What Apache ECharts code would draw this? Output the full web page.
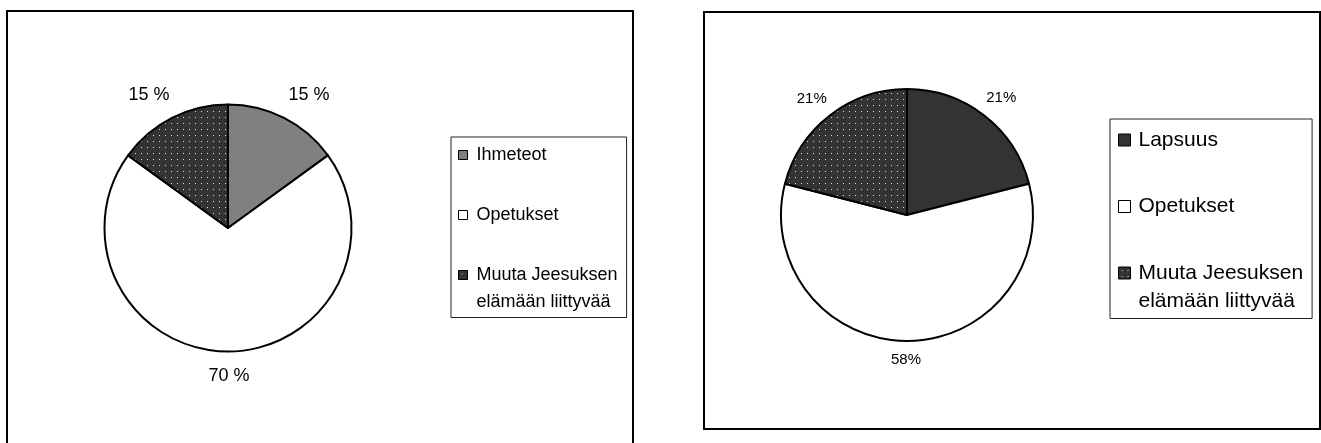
<!DOCTYPE html>
<html lang="fi">
<head>
    <meta charset="UTF-8">
    <title>Jeesus-aiheet</title>
    <script src="https://cdn.jsdelivr.net/npm/echarts@6/dist/echarts.min.js"></script>
    <style>
        html, body { margin: 0; padding: 0; background: #fff; }
        #chart { width: 1321px; height: 443px; }
    </style>
</head>
<body>
<div id="chart"></div>
<script>
  // vasen kaavio
  var leftNames = ['Ihmeteot', 'Opetukset', 'Muuta Jeesuksen elämään liittyvää'];
  var leftValues = [15, 70, 15];
  var leftLabels = ['15 %', '70 %', '15 %'];

  // oikea kaavio
  var rightNames = ['Lapsuus', 'Opetukset', 'Muuta Jeesuksen elämään liittyvää'];
  var rightValues = [21, 58, 21];
  var rightLabels = ['21%', '58%', '21%'];

  var FONT = "'Liberation Sans', Arial, sans-serif";

  function dots(bg) {
    var c = document.createElement('canvas');
    c.width = 6;
    c.height = 6;
    var ctx = c.getContext('2d');
    ctx.fillStyle = bg;
    ctx.fillRect(0, 0, 6, 6);
    ctx.fillStyle = '#dddddd';
    ctx.fillRect(3, 3, 1, 1);
    return { image: c, repeat: 'repeat' };
  }

  var leftColors = ['#808080', '#ffffff', dots('#333333')];
  var rightColors = ['#333333', '#ffffff', dots('#333333')];

  function buildData(names, values, colors) {
    return names.map(function (n, i) {
      return { name: n, value: values[i], itemStyle: { color: colors[i] } };
    });
  }

  // label shifts from the slice edge (dx, dy)
  var leftShift = [[25, -23], [1, 25], [-23, -23]];
  var rightShift = [[17, -18], [-1, 19], [-18, -17]];

  // last legend entry wraps on two lines, icon stays on the first one
  function legendData(names, lh, padLeft) {
    return names.map(function (n, i) {
      var last = i === names.length - 1;
      return {
        name: n,
        textStyle: {
          lineHeight: lh,
          padding: [0, 0, last ? -lh : 0, padLeft],
          rich: { t: {} }
        }
      };
    });
  }

  function breakName(name) {
    return name.replace('Jeesuksen ', 'Jeesuksen\n');
  }

  function pie(center, radius, data, labels, shift, fontSize) {
    return {
      type: 'pie',
      center: center,
      radius: radius,
      startAngle: 90,
      clockwise: true,
      avoidLabelOverlap: false,
      silent: true,
      emphasis: { disabled: true },
      itemStyle: { borderColor: '#000', borderWidth: 2 },
      label: {
        show: true,
        position: 'outside',
        distanceToLabelLine: 0,
        color: '#000',
        fontFamily: FONT,
        fontSize: fontSize,
        formatter: function (p) { return labels[p.dataIndex]; }
      },
      labelLine: { show: false, length: 0, length2: 0 },
      labelLayout: function (p) {
        var s = shift[p.dataIndex];
        return { dx: s[0], dy: s[1], align: 'center', verticalAlign: 'middle' };
      },
      data: data
    };
  }

  var myChart = echarts.init(document.getElementById('chart'));

  myChart.setOption({
    animation: false,
    backgroundColor: '#fff',
    graphic: [
      {
        type: 'rect',
        shape: { x: 7, y: 11, width: 626, height: 460 },
        style: { fill: null, stroke: '#000', lineWidth: 2 },
        silent: true
      },
      {
        type: 'rect',
        shape: { x: 704, y: 12, width: 616, height: 417 },
        style: { fill: null, stroke: '#000', lineWidth: 2 },
        silent: true
      }
    ],
    legend: [
      {
        orient: 'vertical',
        left: 451,
        top: 137,
        padding: [4.5, 9, 6.5, 7],
        itemGap: 33,
        itemWidth: 9,
        itemHeight: 9,
        icon: 'rect',
        selectedMode: false,
        borderColor: '#222',
        borderWidth: 1,
        borderRadius: 0,
        itemStyle: { borderColor: '#000', borderWidth: 1 },
        textStyle: { color: '#000', fontFamily: FONT, fontSize: 18 },
        formatter: breakName,
        data: legendData(leftNames, 27, 4)
      },
      {
        orient: 'vertical',
        left: 1110,
        top: 119,
        padding: [7, 9, 7, 8],
        itemGap: 38.5,
        itemWidth: 12,
        itemHeight: 12,
        icon: 'rect',
        selectedMode: false,
        borderColor: '#222',
        borderWidth: 1,
        borderRadius: 0,
        itemStyle: { borderColor: '#000', borderWidth: 1 },
        textStyle: { color: '#000', fontFamily: FONT, fontSize: 21 },
        formatter: breakName,
        data: legendData(rightNames, 28, 3)
      }
    ],
    series: [
      pie([228, 228], 123.5, buildData(leftNames, leftValues, leftColors), leftLabels, leftShift, 18),
      pie([907, 215], 126, buildData(rightNames, rightValues, rightColors), rightLabels, rightShift, 15)
    ]
  });
</script>
</body>
</html>
